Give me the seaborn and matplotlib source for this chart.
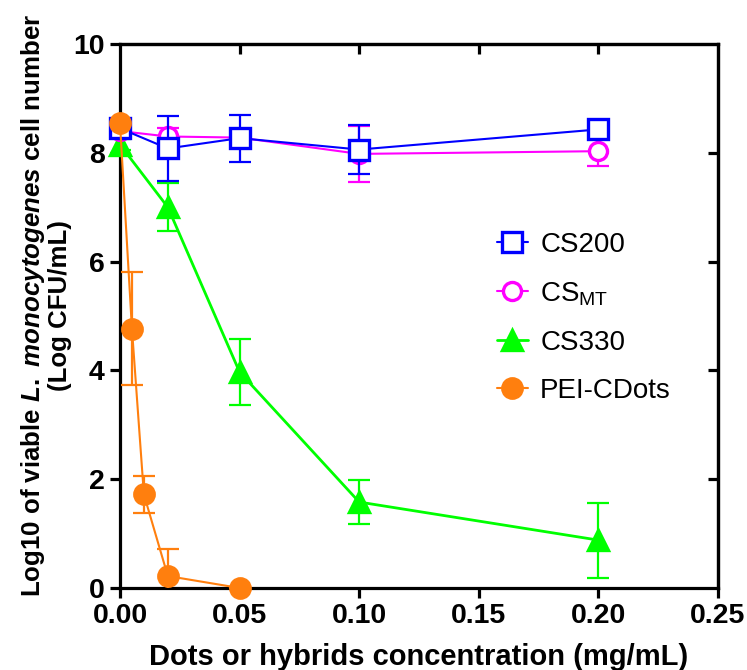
import matplotlib
matplotlib.use('Agg')
import matplotlib.pyplot as plt
import seaborn as sns
import numpy as np

# data
x_cs200 = [0, 0.02, 0.05, 0.1, 0.2]
y_cs200 = [8.45, 8.08, 8.27, 8.06, 8.43]
sd_cs200 = [0.08, 0.59, 0.43, 0.45, 0.10]

x_csmt = [0, 0.02, 0.05, 0.1, 0.2]
y_csmt = [8.40, 8.30, 8.28, 7.98, 8.03]
sd_csmt = [0.10, 0.15, 0.10, 0.52, 0.28]

x_cs330 = [0, 0.02, 0.05, 0.1, 0.2]
y_cs330 = [8.15, 7.00, 3.97, 1.58, 0.88]
sd_cs330 = [0.10, 0.44, 0.60, 0.40, 0.69]

x_pei = [0, 0.005, 0.01, 0.02, 0.05]
y_pei = [8.55, 4.77, 1.72, 0.22, 0.0]
sd_pei = [0.05, 1.03, 0.34, 0.50, 0.0]

x_ticks = [0.00, 0.05, 0.10, 0.15, 0.20, 0.25]
y_ticks = [0, 2, 4, 6, 8, 10]

sns.set_style('ticks')
plt.rcParams['font.family'] = ['Liberation Sans', 'DejaVu Sans']
plt.rcParams['mathtext.fontset'] = 'custom'
plt.rcParams['mathtext.rm'] = 'Liberation Sans:bold'
plt.rcParams['mathtext.it'] = 'Liberation Sans:bold:italic'
plt.rcParams['mathtext.bf'] = 'Liberation Sans:bold'
for k in ['text.color', 'axes.labelcolor', 'xtick.color', 'ytick.color', 'axes.edgecolor']:
    plt.rcParams[k] = 'black'

fig = plt.figure(figsize=(7.47, 6.70), dpi=100)
ax = fig.add_axes([0.1606, 0.1224, 0.8006, 0.8119])

# series: (x, y, sd, label, color, marker, ms, facecolor, linewidth)
series = [
    (x_cs330, y_cs330, sd_cs330, 'CS330', '#00FF00', '^', 15, '#00FF00', 2.0),
    (x_csmt, y_csmt, sd_csmt, r'CS$_\mathregular{MT}$', '#FF00FF', 'o', 13, 'white', 1.5),
    (x_cs200, y_cs200, sd_cs200, 'CS200', '#0000FF', 's', 14, 'white', 1.5),
    (x_pei, y_pei, sd_pei, 'PEI-CDots', '#FF7F0E', 'o', 14, '#FF7F0E', 1.5),
]

z = 3
for xs, ys, sds, lab, col, mk, ms, fc, lw in series:
    ax.errorbar(xs, ys, yerr=sds, fmt='none', ecolor=col, elinewidth=1.6,
                capsize=8, capthick=1.6, clip_on=True, zorder=z)
    sns.lineplot(x=xs, y=ys, ax=ax, color=col, marker=mk, markersize=ms,
                 markerfacecolor=fc, markeredgecolor=col, markeredgewidth=2.4,
                 linewidth=lw, estimator=None, errorbar=None, label=lab,
                 clip_on=False, zorder=z + 0.5)
    z += 1

ax.set_xlim(0, 0.25)
ax.set_ylim(0, 10)
ax.set_xticks(x_ticks)
ax.set_xticklabels(['%.2f' % t for t in x_ticks])
ax.set_yticks(y_ticks)
ax.set_yticklabels([str(t) for t in y_ticks])

for s in ax.spines.values():
    s.set_visible(True)
    s.set_linewidth(2.3)
    s.set_color('black')

ax.tick_params(axis='both', which='major', direction='out', length=7, width=2.3,
               labelsize=20.5, pad=4, top=False, right=False)
for t in ax.get_xticklabels() + ax.get_yticklabels():
    t.set_fontweight('bold')

# inward ticks on the top and right edges
secx = ax.secondary_xaxis('top')
secx.set_xticks(x_ticks[1:-1])
secx.tick_params(direction='in', length=7, width=2.3, labeltop=False)
secx.spines['top'].set_linewidth(2.3)
secy = ax.secondary_yaxis('right')
secy.set_yticks(y_ticks[1:-1])
secy.tick_params(direction='in', length=7, width=2.3, labelright=False)
secy.spines['right'].set_linewidth(2.3)

ax.set_xlabel('Dots or hybrids concentration (mg/mL)', fontsize=21,
              fontweight='bold', labelpad=10)
ax.set_ylabel('Log10 of viable $\\it{L.\\ monocytogenes}$ cell number\n(Log CFU/mL)',
              fontsize=18.6, fontweight='bold', labelpad=1, linespacing=1.05)
ax.yaxis.label.set_y(0.52)

handles, labels = ax.get_legend_handles_labels()
order = ['CS200', r'CS$_\mathregular{MT}$', 'CS330', 'PEI-CDots']
hmap = dict(zip(labels, handles))
ax.legend([hmap[l] for l in order], order, loc='upper left',
          bbox_to_anchor=(0.612, 0.675), frameon=False, fontsize=20,
          handlelength=1.1, handletextpad=0.45, labelspacing=0.8,
          borderaxespad=0)

fig.savefig('out.png', dpi=100)
